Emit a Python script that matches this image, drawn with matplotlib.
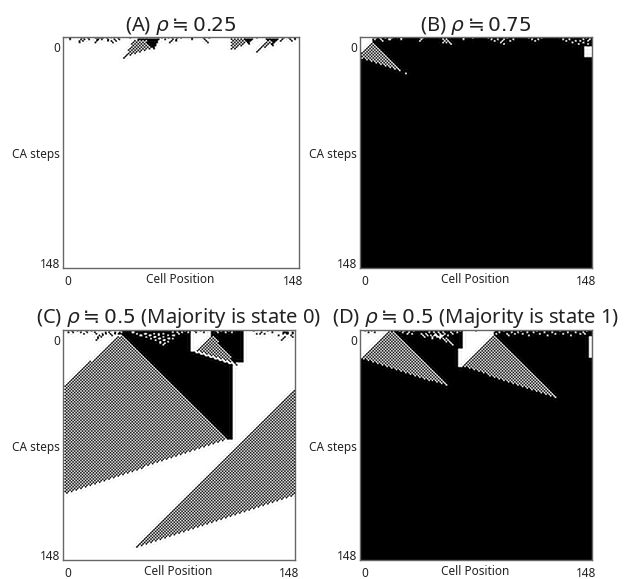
import numpy as np
import matplotlib
matplotlib.use("Agg")
import matplotlib.pyplot as plt
from matplotlib.path import Path

plt.rcParams['font.family'] = ['Noto Sans', 'Noto Sans CJK KR', 'DejaVu Sans']
plt.rcParams['mathtext.fontset'] = 'dejavusans'

N = 149
W, H = 630, 579
titles = ["(A) $\\rho \\fallingdotseq 0.25$", "(B) $\\rho \\fallingdotseq 0.75$",
          "(C) $\\rho \\fallingdotseq 0.5$ (Majority is state 0)",
          "(D) $\\rho \\fallingdotseq 0.5$ (Majority is state 1)"]
x_tick_labels = ["0", "148"]
y_tick_labels = ["0", "148"]
xlabel = "Cell Position"
ylabel = "CA steps"

# regions: polygons as (col, row)
A_bg = 0
A_check = [[(44, 1), (38, 13), (55, 7), (52, 1)], [(105, 0), (105, 9), (116, 3), (114, 0)],
           [(128, 1), (122, 9), (132, 4), (130, 1)]]
A_black = [[(46, 0), (58, 0), (60, 1), (57, 7), (52, 6), (49, 3)], [(114, 0), (120, 0), (117, 4), (115, 3)],
           [(127, 0), (136, 0), (132, 5), (128, 4)]]
A_white = []
A_noise = [(0, 4), (1, 4), (0, 12), (1, 11), (1, 13), (2, 10), (3, 10), (0, 15), (1, 16), (2, 12),
           (0, 20), (1, 21), (1, 22), (2, 21), (3, 20), (0, 23), (1, 24), (0, 25), (0, 27), (1, 28),
           (2, 28), (0, 30), (2, 30), (1, 32), (0, 34), (2, 33), (1, 35), (3, 31),
           (0, 42), (0, 62), (1, 64), (0, 66), (0, 68), (1, 69), (2, 68), (3, 67), (1, 71), (0, 72), (2, 71),
           (0, 74), (0, 81), (1, 81), (0, 88), (1, 89), (2, 90), (3, 91), (0, 92),
           (0, 122), (1, 138), (0, 139), (2, 137), (0, 142), (1, 143), (2, 144), (0, 146), (1, 146)]

B_bg = 1
B_white = [[(-1, -1), (7, -1), (7, 2), (-1, 10)], [(144, 5), (149, 5), (149, 12), (144, 12)]]
B_check = [[(7, 2), (0, 9), (0, 13), (29, 23)], [(51, 0), (55, 0), (60, 5), (53, 3)]]
B_black = []
B_noise = [(0, 8), (1, 9), (0, 10), (0, 12), (1, 13), (2, 14), (0, 16), (1, 18), (0, 20), (1, 19), (0, 26),
           (1, 26), (0, 38), (1, 39), (2, 38), (0, 40), (0, 66), (1, 66), (0, 72), (0, 82), (1, 84), (2, 86),
           (1, 88), (3, 90), (1, 92), (2, 91), (4, 92), (0, 94), (2, 96), (1, 98), (0, 108), (1, 110),
           (2, 112), (1, 114), (0, 116), (1, 130), (2, 132), (1, 134), (3, 136), (2, 138), (4, 140),
           (2, 141), (1, 143), (3, 143), (0, 145), (2, 146), (4, 146), (1, 147)]

C_bg = 0
C_black = [[(36, -1), (82, -1), (82, 13), (108.5, 22), (108.5, 70), (106, 70), (36, 2)],
           [(93, -1), (115.5, -1), (115.5, 20), (108, 20), (93, 4)]]
C_white = [[(82, -1), (94, -1), (94, 3), (84, 13), (82, 13)]]
C_check = [[(36, 2), (0, 36), (0, 106), (106, 70)], [(94, 3), (84, 13), (111, 22), (96, 3)],
           [(149, 37), (149, 106.5), (45.6, 141)]]
C_noise = [(1, 3), (0, 5), (1, 6), (0, 9), (1, 11), (0, 14), (1, 15), (2, 13), (0, 18),
           (1, 20), (2, 21), (3, 23), (4, 22), (5, 22), (6, 21), (3, 25), (2, 25), (4, 24), (1, 27), (2, 27),
           (1, 29), (0, 30), (2, 30), (3, 31), (1, 33), (2, 35), (0, 36), (1, 37), (3, 36), (2, 33),
           # white marks on the black part
           (1, 44), (1, 45), (2, 47), (3, 49), (3, 50), (2, 52), (2, 53), (4, 53), (3, 55), (3, 56), (5, 56),
           (2, 58), (4, 58), (4, 59), (6, 59), (2, 61), (3, 61), (5, 61), (5, 62), (7, 62), (8, 62), (2, 64),
           (4, 64), (6, 64), (6, 65), (8, 65), (9, 64), (3, 67), (5, 67), (5, 68), (7, 67), (1, 70), (3, 70),
           (3, 71), (5, 70), (1, 73), (2, 74), (1, 76), (0, 78), (1, 80),
           (0, 84), (1, 85), (0, 88), (1, 90), (0, 98), (1, 99), (0, 101), (1, 104), (0, 106), (1, 108),
           (0, 122), (2, 124), (2, 126), (1, 127), (2, 129), (0, 131), (1, 134), (3, 138), (1, 141), (2, 141),
           (1, 142), (2, 143), (1, 143), (1, 144), (2, 144), (4, 142), (5, 141), (6, 140), (3, 146), (4, 147),
           (2, 147), (1, 147)]

D_bg = 1
D_white = [[(-1, -1), (18, -1), (18, 0), (0, 18), (-1, 18)],
           [(65.6, -1), (85, -1), (85, 3), (65.6, 23), (63, 23), (63, 11), (65.6, 11)],
           [(146.6, 3), (149, 3), (149, 17), (146.6, 17)]]
D_check = [[(18.6, 0), (0, 18), (56.4, 36), (20, 0)], [(85, 3), (65.6, 23), (126.5, 44)],
           [(46, 3), (53, 2), (62.4, 10.7)]]
D_black = []
D_noise = [(0, 3), (1, 5), (0, 7), (1, 9), (0, 25), (1, 27), (0, 28), (2, 30), (1, 31), (2, 33), (0, 34),
           (2, 39), (3, 40), (4, 41), (2, 42), (3, 43), (1, 44), (3, 45), (4, 46), (5, 46), (1, 47), (2, 48),
           (3, 48), (4, 49), (1, 50), (2, 51), (4, 51), (3, 52), (1, 53), (2, 54), (4, 54), (3, 56), (1, 58),
           (2, 59), (0, 60), (1, 62), (0, 64),
           (0, 74), (0, 86), (2, 87), (1, 89), (0, 92), (2, 94), (3, 95), (1, 97), (2, 99), (1, 101), (0, 103),
           (2, 104), (1, 107), (3, 108), (1, 111), (0, 113), (2, 115), (1, 118), (3, 120), (1, 123), (2, 125),
           (0, 128), (2, 130), (1, 133), (3, 135), (1, 138), (2, 141), (1, 143), (0, 145), (2, 144)]

axes_px = [(62.5, 37, 298.5, 268), (359.5, 37, 591.5, 268),
           (62.5, 330, 294.5, 560), (359.5, 330, 591.5, 560)]

rr, cc = np.mgrid[0:N, 0:N]
pts = np.column_stack([cc.ravel(), rr.ravel()])
checker = (rr + cc) % 2


def mask(poly):
    return Path(poly).contains_points(pts).reshape(N, N)


def build(bg, white, black, check, noise):
    g = np.full((N, N), bg)
    for p in black:
        g[mask(p)] = 1
    for p in white:
        g[mask(p)] = 0
    for p in check:
        m = mask(p)
        g[m] = checker[m]
    for r, c in noise:
        g[r, c] = 1 - g[r, c]
    return g


grids = [build(A_bg, A_white, A_black, A_check, A_noise),
         build(B_bg, B_white, B_black, B_check, B_noise),
         build(C_bg, C_white, C_black, C_check, C_noise),
         build(D_bg, D_white, D_black, D_check, D_noise)]

fig = plt.figure(figsize=(W / 100, H / 100), dpi=100)
for (x0, y0, x1, y1), g, t in zip(axes_px, grids, titles):
    ax = fig.add_axes([x0 / W, 1 - y1 / H, (x1 - x0) / W, (y1 - y0) / H])
    ax.imshow(g, cmap='gray_r', vmin=0, vmax=1, aspect='auto', interpolation='lanczos',
              extent=(-0.5, N - 0.5, N - 0.5, -0.5))
    ax.set_xticks([3, 145], x_tick_labels, fontsize=8.5, color='#222222')
    ax.set_yticks([6, 145], y_tick_labels, fontsize=8.5, color='#222222')
    ax.tick_params(length=0)
    ax.tick_params(axis='x', pad=5)
    ax.tick_params(axis='y', pad=1.5)
    for s in ax.spines.values():
        s.set_color('#666666')
        s.set_linewidth(1.0)
    ax.set_xlabel(xlabel, fontsize=8.5, labelpad=-10.5, color='#222222')
    ax.text(-0.01, 0.49, ylabel, transform=ax.transAxes, ha='right', va='center',
            fontsize=8.5, color='#222222')
    ax.set_title(t, fontsize=14.5, pad=3, color='#222222')
fig.savefig("out.png", dpi=100)
